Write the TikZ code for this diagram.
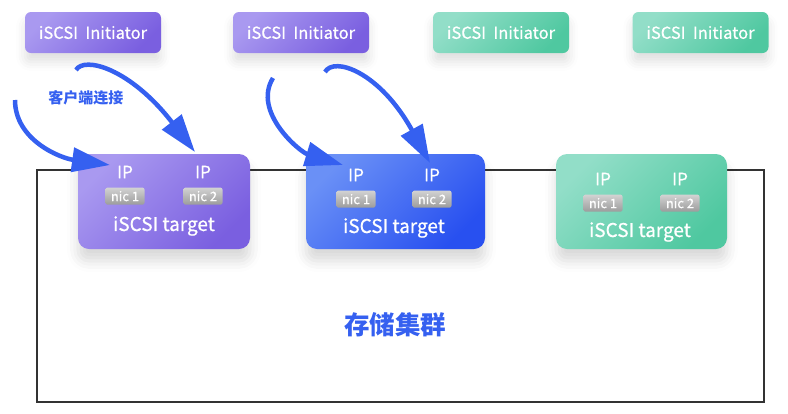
\documentclass[tikz,border=0pt]{standalone}
\usepackage{fontspec}
\setmainfont{Noto Sans CJK SC}
\newfontfamily\medfont{Noto Sans CJK SC}[FakeBold=0.6]
\usetikzlibrary{positioning,arrows.meta,shadows.blur}
\definecolor{purpleL}{HTML}{A999F0}
\definecolor{purpleD}{HTML}{7A5FE0}
\definecolor{blueL}{HTML}{6A90F6}
\definecolor{blueD}{HTML}{2850F0}
\definecolor{greenL}{HTML}{92DEC8}
\definecolor{greenD}{HTML}{4FC8A0}
\definecolor{nicL}{HTML}{D2D2D2}
\definecolor{nicD}{HTML}{9C9C9C}
\definecolor{linkblue}{HTML}{3560F0}
\definecolor{frame}{HTML}{333333}
\begin{document}
\begin{tikzpicture}[x=1pt, y=-1pt,
initiator/.style={rectangle, rounded corners=6pt, minimum width=136pt, minimum height=41pt, text=white, font=\medfont\fontsize{16.5}{16.5}\selectfont, blur shadow={shadow xshift=0pt, shadow yshift=-9pt, shadow opacity=12, shadow blur radius=9pt}},
target/.style={rectangle, rounded corners=11pt, minimum height=95pt, blur shadow={shadow xshift=0pt, shadow yshift=-12pt, shadow opacity=15, shadow blur radius=11pt}},
purplebox/.style={top color=purpleL, bottom color=purpleD, shading angle=45},
bluebox/.style={top color=blueL, bottom color=blueD, shading angle=45},
greenbox/.style={top color=greenL, bottom color=greenD, shading angle=45},
ip/.style={text=white, inner sep=1pt, font=\medfont\fontsize{17}{17}\selectfont},
nic/.style={rectangle, rounded corners=2pt, minimum width=39pt, minimum height=17pt, inner sep=0pt, top color=nicL, bottom color=nicD, text=white, font=\medfont\fontsize{13}{13}\selectfont},
tgtlabel/.style={text=white, inner sep=1pt, font=\medfont\fontsize{19}{19}\selectfont},
cluster/.style={rectangle, draw=frame, line width=2.5pt, minimum width=727pt, minimum height=232pt},
link/.style={draw=linkblue, line width=4.5pt, -{Triangle[length=38pt, width=24pt]}},
]
\useasboundingbox (0,0) rectangle (788,413);

\node[cluster] (cluster) at (400.5,286) {};
\node[text=linkblue, font=\fontsize{25.5}{25.5}\selectfont\bfseries] (clusterlbl) at (395,325) {存储集群};

\node[initiator, purplebox] (init1) at (93,32.5) {iSCSI\ \ Initiator};
\node[initiator, purplebox] (init2) at (301,32.5) {iSCSI\ \ Initiator};
\node[initiator, greenbox] (init3) at (501,32.5) {iSCSI\ \ Initiator};
\node[initiator, greenbox] (init4) at (700.5,32.5) {iSCSI\ \ Initiator};

\node[target, purplebox, minimum width=172pt] (tgt1) at (164,201.5) {};
\node[target, bluebox, minimum width=179pt] (tgt2) at (395.5,201.5) {};
\node[target, greenbox, minimum width=171pt] (tgt3) at (641.5,201.5) {};

% IP / nic / label inside each target
\node[ip] (ip11) at (125,172) {IP};
\node[ip] (ip12) at (203,172) {IP};
\node[nic, below=8pt of ip11] (nic11) {nic 1};
\node[nic, below=8pt of ip12] (nic12) {nic 2};
\node[tgtlabel] (tl1) at (164,226) {iSCSI target};

\node[ip] (ip21) at (356,175) {IP};
\node[ip] (ip22) at (432,175) {IP};
\node[nic, below=8pt of ip21] (nic21) {nic 1};
\node[nic, below=8pt of ip22] (nic22) {nic 2};
\node[tgtlabel] (tl2) at (394,228) {iSCSI target};

\node[ip] (ip31) at (603,179) {IP};
\node[ip] (ip32) at (680,179) {IP};
\node[nic, below=8pt of ip31] (nic31) {nic 1};
\node[nic, below=8pt of ip32] (nic32) {nic 2};
\node[tgtlabel] (tl3) at (640,232) {iSCSI target};

\node[text=linkblue, font=\fontsize{15}{15}\selectfont\bfseries] (connlbl) at (86,98) {客户端连接};

\coordinate (tailA) at (15,100);
\coordinate (tailB) at (76,70);
\coordinate (tailC) at (273,78);
\coordinate (tailD) at (325,72);
\draw[link] (tailA) .. controls (15,140) and (60,158) .. ([shift={(-15,-7)}]ip11.center);
\draw[link] (tailB) .. controls (84,56) and (130,68) .. ([shift={(-8,-20)}]ip12.center);
\draw[link] (tailC) .. controls (252,112) and (300,152) .. ([shift={(-13,-10)}]ip21.center);
\draw[link] (tailD) .. controls (334,56) and (380,72) .. ([shift={(-2,-12)}]ip22.center);
\end{tikzpicture}
\end{document}
